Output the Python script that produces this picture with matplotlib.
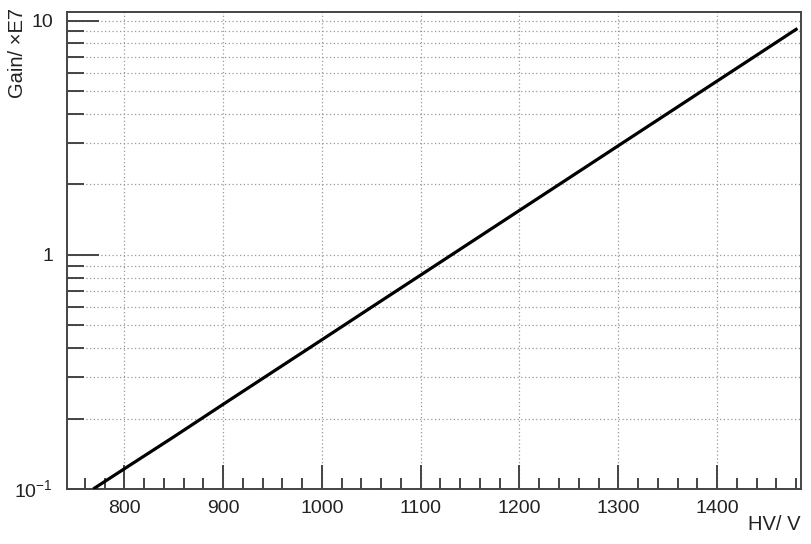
import matplotlib
matplotlib.use("Agg")
import matplotlib.pyplot as plt
from matplotlib.ticker import FixedLocator, FixedFormatter, MultipleLocator, NullFormatter

plt.rcParams['font.family'] = ['Liberation Sans', 'DejaVu Sans']
plt.rcParams['mathtext.fontset'] = 'custom'
plt.rcParams['mathtext.rm'] = 'Liberation Sans'

# HV (V) vs gain (x1E7)
hv = [770, 800, 850, 900, 950, 1000, 1050, 1100, 1150, 1200, 1250, 1300, 1350, 1400, 1450, 1480]
gain = [0.101, 0.122, 0.167, 0.230, 0.316, 0.434, 0.597, 0.820, 1.127, 1.549,
        2.128, 2.925, 4.019, 5.524, 7.590, 9.187]

y_major = [0.1, 1, 10]
y_major_labels = [r'$10^{-1}$', '1', '10']
y_minor = [m * d for d in (0.1, 1) for m in range(2, 10)]

fig = plt.figure(figsize=(8.12, 5.44), dpi=100)
ax = fig.add_axes([0.0825, 0.101, 0.904, 0.877])

ax.plot(hv, gain, color='black', lw=2.3, zorder=3)

ax.set_yscale('log')
ax.set_xlim(742, 1485)
ax.set_ylim(0.1, 10.9)

ax.yaxis.set_major_locator(FixedLocator(y_major))
ax.yaxis.set_major_formatter(FixedFormatter(y_major_labels))
ax.yaxis.set_minor_locator(FixedLocator(y_minor))
ax.yaxis.set_minor_formatter(NullFormatter())
ax.xaxis.set_major_locator(MultipleLocator(100))
ax.xaxis.set_minor_locator(MultipleLocator(20))

grid_kw = dict(color='#999999', linestyle=(0, (1, 2)), linewidth=0.9)
ax.grid(True, which='major', axis='both', **grid_kw)
ax.grid(True, which='minor', axis='y', **grid_kw)

for s in ax.spines.values():
    s.set_color('#444444')
    s.set_linewidth(1.4)

ax.tick_params(axis='both', which='both', direction='in', colors='#444444',
               labelcolor='#222222', labelsize=14, width=1.4)
ax.tick_params(axis='x', which='major', length=17, pad=8)
ax.tick_params(axis='x', which='minor', length=8)
ax.tick_params(axis='y', which='major', length=23, pad=10)
ax.tick_params(axis='y', which='minor', length=12)

fig.text(0.021, 0.985, 'Gain/ \u00d7E7', rotation=90, ha='center', va='top',
         fontsize=14.5, color='#222222')
fig.text(0.986, 0.018, 'HV/ V', ha='right', va='bottom', fontsize=14.5, color='#222222')

fig.savefig('out.png', dpi=100)
